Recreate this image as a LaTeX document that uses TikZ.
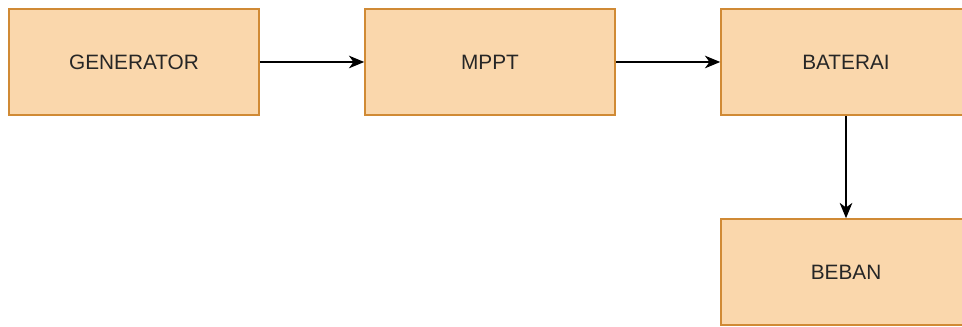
\documentclass[tikz,border=0pt]{standalone}
\usepackage{fontspec}
\setmainfont{Liberation Sans}
\usetikzlibrary{arrows.meta}
\definecolor{boxfill}{HTML}{FAD7AC}
\definecolor{boxline}{HTML}{D08A35}
\begin{document}
\begin{tikzpicture}[x=0.75pt,y=-0.75pt,
  blk/.style={draw=boxline, fill=boxfill, line width=1.2pt, minimum width=187.5pt, minimum height=79.5pt, inner sep=0pt, font=\fontsize{15.6}{18}\selectfont, text=black!85},
  conn/.style={-{Stealth[length=11.5pt,width=9.5pt,inset=3.5pt]}, line width=0.9pt, black}]
\useasboundingbox (0,0) rectangle (962,327);
\clip (0,0) rectangle (962,327);
\node[blk] (gen) at (134,62) {GENERATOR};
\node[blk] (mppt) at (490,62) {MPPT};
\node[blk] (bat) at (846,62) {BATERAI};
\node[blk] (beb) at (846,272) {BEBAN};
\draw[conn] (gen) -- (mppt);
\draw[conn] (mppt) -- (bat);
\draw[conn] (bat) -- (beb);
\end{tikzpicture}
\end{document}
